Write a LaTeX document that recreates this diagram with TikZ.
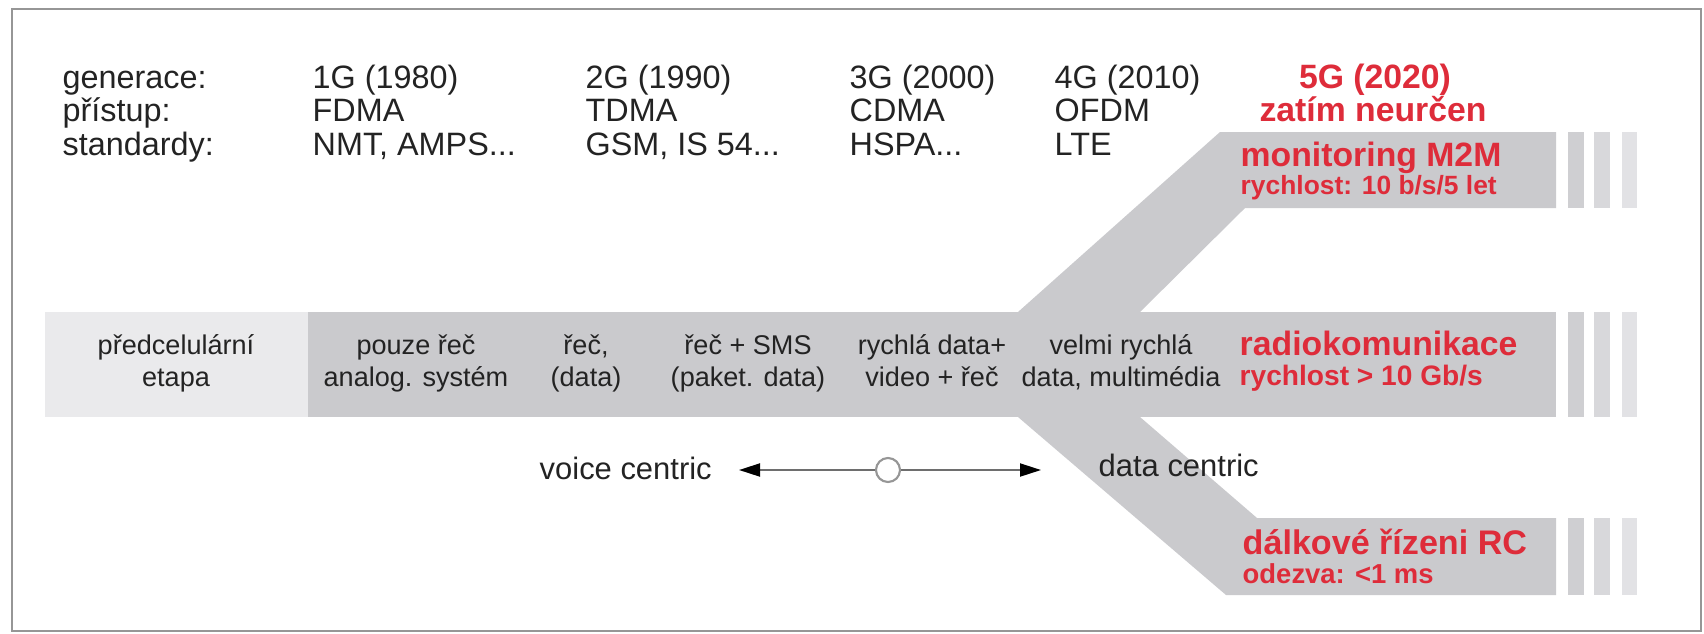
\documentclass[tikz,border=0pt]{standalone}
\usepackage{fontspec}
\setmainfont{Liberation Sans}
\usetikzlibrary{arrows.meta}
\definecolor{bandgray}{RGB}{202,202,205}
\definecolor{lightgray}{RGB}{234,234,236}
\definecolor{stripeA}{RGB}{207,207,210}
\definecolor{stripeB}{RGB}{216,216,219}
\definecolor{stripeC}{RGB}{226,226,229}
\definecolor{txt}{RGB}{35,35,35}
\definecolor{redtxt}{RGB}{222,44,58}
\definecolor{framegray}{RGB}{150,150,150}
\definecolor{arrowgray}{RGB}{110,110,110}
\tikzset{
  hdr/.style={font=\fontsize{9.2}{9.2}\selectfont, text=txt, anchor=base west, inner sep=0pt},
  bandtxt/.style={font=\fontsize{7.7}{9}\selectfont, text=txt, anchor=base, inner sep=0pt},
  redbig/.style={font=\fontsize{9.6}{9.6}\selectfont\bfseries, text=redtxt, inner sep=0pt},
  redsmall/.style={font=\fontsize{7.7}{7.7}\selectfont\bfseries, text=redtxt, inner sep=0pt},
  centric/.style={font=\fontsize{8.8}{8.8}\selectfont, text=txt, anchor=base west, inner sep=0pt},
}
\begin{document}
\begin{tikzpicture}[x=0.01cm, y=-0.01cm]
\useasboundingbox (0,0) rectangle (1704,633);
\fill[white] (0,0) rectangle (1704,633);
% frame
\draw[framegray, line width=0.6pt] (12,9) rectangle (1701,631);

% main band
\fill[lightgray] (45,312) rectangle (308,417);
\fill[bandgray] (308,312) rectangle (1556,417);
% upper branch
\fill[bandgray] (1018,312) -- (1220,132) -- (1556,132) -- (1556,208) -- (1245,208) -- (1140,312) -- cycle;
% lower branch
\fill[bandgray] (1018,417) -- (1140,417) -- (1257,518) -- (1556,518) -- (1556,595) -- (1226,595) -- cycle;
% stripes
\foreach \ya/\yb in {132/208, 312/417, 518/595} {
  \fill[stripeA] (1568,\ya) rectangle (1584,\yb);
  \fill[stripeB] (1594,\ya) rectangle (1610,\yb);
  \fill[stripeC] (1622,\ya) rectangle (1637,\yb);
}

% header
\node[hdr] (gen) at (62,88) {generace:};
\node[hdr] (pri) at (62,121) {přístup:};
\node[hdr] (std) at (62,155) {standardy:};
\node[hdr] (g1a) at (312,88) {1G (1980)};
\node[hdr] (g1b) at (312,121) {FDMA};
\node[hdr] (g1c) at (312,155) {NMT, AMPS...};
\node[hdr] (g2a) at (585,88) {2G (1990)};
\node[hdr] (g2b) at (585,121) {TDMA};
\node[hdr] (g2c) at (585,155) {GSM, IS 54...};
\node[hdr] (g3a) at (849,88) {3G (2000)};
\node[hdr] (g3b) at (849,121) {CDMA};
\node[hdr] (g3c) at (849,155) {HSPA...};
\node[hdr] (g4a) at (1054,88) {4G (2010)};
\node[hdr] (g4b) at (1054,121) {OFDM};
\node[hdr] (g4c) at (1054,155) {LTE};
\node[redbig, anchor=base] (g5a) at (1375,88) {5G (2020)};
\node[redbig, anchor=base] (g5b) at (1373,121) {zatím neurčen};

% band texts
\node[bandtxt] (p1) at (176,354) {předcelulární};
\node[bandtxt] (p2) at (176,386) {etapa};
\node[bandtxt] (a1) at (416,354) {pouze řeč};
\node[bandtxt] (a2) at (416,386) {analog. systém};
\node[bandtxt] (b1) at (586,354) {řeč,};
\node[bandtxt] (b2) at (586,386) {(data)};
\node[bandtxt] (c1) at (748,354) {řeč + SMS};
\node[bandtxt] (c2) at (748,386) {(paket. data)};
\node[bandtxt] (d1) at (932,354) {rychlá data+};
\node[bandtxt] (d2) at (932,386) {video + řeč};
\node[bandtxt] (e1) at (1121,354) {velmi rychlá};
\node[bandtxt] (e2) at (1121,386) {data, multimédia};

% red branch texts
\node[redbig, anchor=base west] (m1) at (1240,166) {monitoring M2M};
\node[redsmall, anchor=base west, font=\fontsize{7.5}{7.5}\selectfont\bfseries] (m2) at (1240,194) {rychlost: 10 b/s/5 let};
\node[redbig, anchor=base west] (r1) at (1239,355) {radiokomunikace};
\node[redsmall, anchor=base west, font=\fontsize{8}{8}\selectfont\bfseries] (r2) at (1239,385) {rychlost > 10 Gb/s};
\node[redbig, anchor=base west, font=\fontsize{9.7}{9.7}\selectfont\bfseries] (l1) at (1242,554) {dálkové řízeni RC};
\node[redsmall, anchor=base west, font=\fontsize{7.8}{7.8}\selectfont\bfseries] (l2) at (1242,583) {odezva: <1 ms};

% voice/data centric
\node[centric] (vc) at (539,479) {voice centric};
\node[centric] (dc) at (1098,476) {data centric};
\coordinate (la) at (739,470);
\coordinate (ra) at (1041,470);
\node[circle, draw=framegray, fill=white, line width=0.6pt, minimum size=0.24cm, inner sep=0pt] (mid) at (888,470) {};
\draw[arrowgray, line width=0.55pt, -{Triangle[length=2.1mm, width=1.3mm, color=black]}] (mid) -- (la);
\draw[arrowgray, line width=0.55pt, -{Triangle[length=2.1mm, width=1.3mm, color=black]}] (mid) -- (ra);
\end{tikzpicture}
\end{document}
